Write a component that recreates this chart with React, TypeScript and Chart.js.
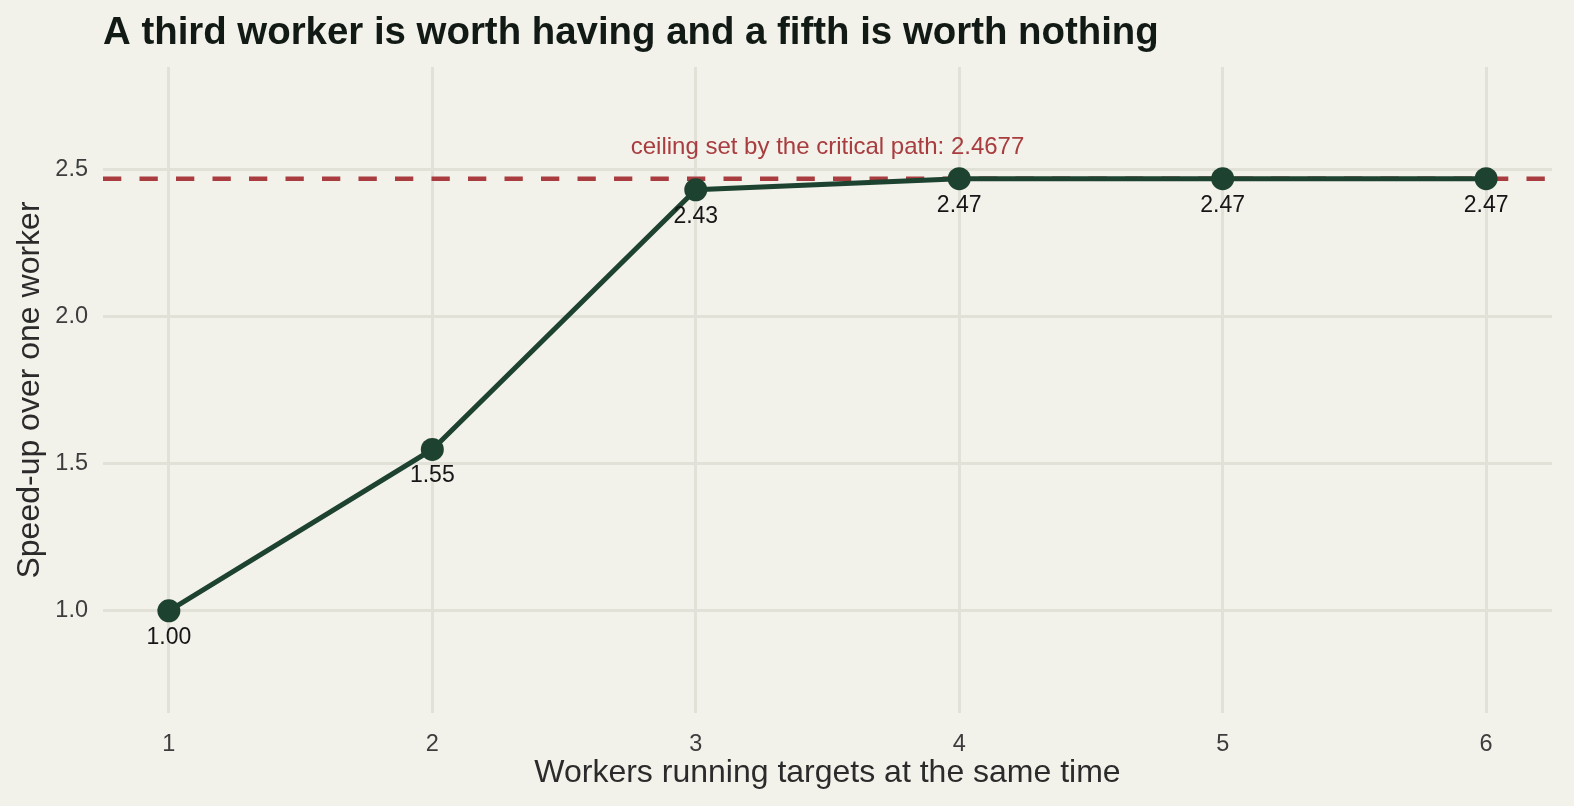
import { useEffect, useRef } from 'react';
import { Chart, registerables } from 'chart.js';

Chart.register(...registerables);

const workers = [1, 2, 3, 4, 5, 6];
const speedup = [1.0, 1.548, 2.43, 2.4677, 2.4677, 2.4677];
const xTicks = [1, 2, 3, 4, 5, 6];
const yTicks = [1.0, 1.5, 2.0, 2.5];
const ceiling = 2.4677;
const ceilingLabelX = 3.5;
const ceilingLabelY = 2.575;
const titleText = 'A third worker is worth having and a fifth is worth nothing';
const xTitle = 'Workers running targets at the same time';
const yTitle = 'Speed-up over one worker';

const FONT = '"Liberation Sans", Arial, Helvetica, sans-serif';
const BG = '#f2f1ea';
const GRID = '#e2e1d7';
const LINE = '#1e4230';
const RED = '#a83c3e';

const overlay = {
  id: 'overlay',
  beforeDatasetsDraw(chart: any) {
    const { ctx, chartArea, scales } = chart;
    const y = scales.y.getPixelForValue(ceiling);
    ctx.save();
    ctx.strokeStyle = RED;
    ctx.lineWidth = 4.5;
    ctx.setLineDash([18.3, 18.2]);
    ctx.beginPath();
    ctx.moveTo(chartArea.left, y);
    ctx.lineTo(chartArea.right, y);
    ctx.stroke();
    ctx.restore();
  },
  afterDatasetsDraw(chart: any) {
    const { ctx, scales } = chart;
    const meta = chart.getDatasetMeta(0);
    ctx.save();
    ctx.font = `23px ${FONT}`;
    ctx.fillStyle = '#161616';
    ctx.textAlign = 'center';
    ctx.textBaseline = 'middle';
    meta.data.forEach((pt: any, i: number) => {
      ctx.fillText(speedup[i].toFixed(2), pt.x, pt.y + 26.5);
    });
    ctx.font = `24px ${FONT}`;
    ctx.fillStyle = RED;
    ctx.fillText(
      `ceiling set by the critical path: ${ceiling}`,
      scales.x.getPixelForValue(ceilingLabelX),
      scales.y.getPixelForValue(ceilingLabelY)
    );
    ctx.restore();
  },
  afterDraw(chart: any) {
    const { ctx } = chart;
    ctx.save();
    ctx.font = `bold 38.4px ${FONT}`;
    ctx.fillStyle = '#121a15';
    ctx.textAlign = 'left';
    ctx.textBaseline = 'alphabetic';
    ctx.fillText(titleText, 103, 43.5);
    ctx.restore();
  },
};

export default function App() {
  const canvasRef = useRef<HTMLCanvasElement | null>(null);

  useEffect(() => {
    if (!canvasRef.current) return;
    const chart = new Chart(canvasRef.current, {
      type: 'line',
      data: {
        labels: workers,
        datasets: [
          {
            data: workers.map((w, i) => ({ x: w, y: speedup[i] })),
            borderColor: LINE,
            backgroundColor: LINE,
            borderWidth: 5,
            pointRadius: 11.5,
            pointHoverRadius: 11.5,
            pointBorderWidth: 0,
            tension: 0,
          },
        ],
      },
      options: {
        animation: false,
        responsive: false,
        devicePixelRatio: 1,
        layout: { padding: { top: 67, right: 22, left: 0, bottom: 0 } },
        plugins: {
          legend: { display: false },
          tooltip: { enabled: false },
          title: { display: false },
        },
        scales: {
          x: {
            type: 'linear',
            min: 0.75,
            max: 6.25,
            afterBuildTicks: (scale: any) => {
              scale.ticks = xTicks.map((v) => ({ value: v }));
            },
            afterFit: (scale: any) => {
              scale.height = 93;
            },
            ticks: {
              callback: (v: any) => String(v),
              font: { family: FONT, size: 23.5 },
              color: '#3d3d3d',
              padding: 17,
              maxRotation: 0,
            },
            grid: { color: GRID, lineWidth: 3, drawTicks: false },
            border: { display: false },
            title: {
              display: true,
              text: xTitle,
              font: { family: FONT, size: 32 },
              color: '#2b2b2b',
              padding: { top: 0, bottom: 13.5 },
            },
          },
          y: {
            type: 'linear',
            min: 0.653,
            max: 2.847,
            afterBuildTicks: (scale: any) => {
              scale.ticks = yTicks.map((v) => ({ value: v }));
            },
            afterFit: (scale: any) => {
              scale.width = 103;
            },
            ticks: {
              callback: (v: any) => Number(v).toFixed(1),
              font: { family: FONT, size: 23.5 },
              color: '#3d3d3d',
              padding: 15,
            },
            grid: { color: GRID, lineWidth: 3, drawTicks: false },
            border: { display: false },
            title: {
              display: true,
              text: yTitle,
              font: { family: FONT, size: 32 },
              color: '#2b2b2b',
              padding: { top: 11, bottom: 0 },
            },
          },
        },
      },
      plugins: [overlay],
    });
    return () => chart.destroy();
  }, []);

  return (
    <div style={{ position: 'fixed', top: 0, left: 0, width: 1574, height: 806, background: BG }}>
      <canvas ref={canvasRef} width={1574} height={806} />
    </div>
  );
}
